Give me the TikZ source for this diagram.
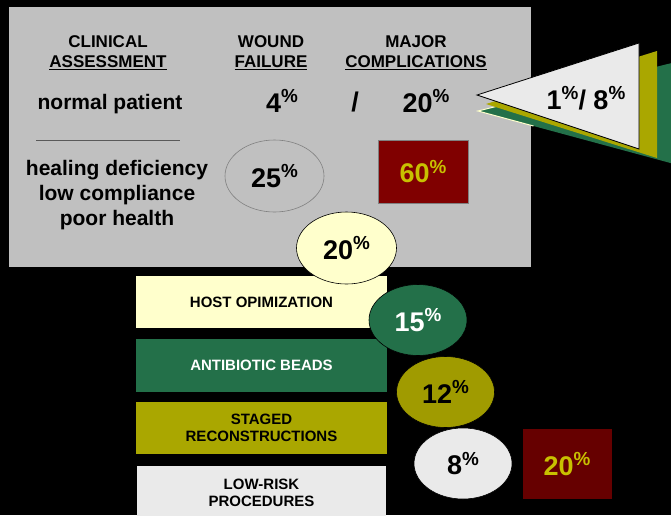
\documentclass[tikz,border=0pt]{standalone}
\usepackage{fontspec}
\setmainfont{Liberation Sans}
\usetikzlibrary{shapes.geometric,calc}
\definecolor{panel}{HTML}{C0C0C0}
\definecolor{lyellow}{HTML}{FFFFCC}
\definecolor{dgreen}{HTML}{237049}
\definecolor{olive}{HTML}{AAA700}
\definecolor{olived}{HTML}{A09B00}
\definecolor{lgray}{HTML}{EAEAEA}
\definecolor{dred}{HTML}{800000}
\definecolor{ddred}{HTML}{660000}
\definecolor{ytext}{HTML}{C8C000}
\newcommand\pc{\raisebox{0.36em}{\scalebox{0.7}{\%}}}
\tikzset{
  hdr/.style={align=center,font=\fontsize{17}{20}\selectfont\bfseries,inner sep=0pt},
  body/.style={align=center,font=\fontsize{21}{25}\selectfont\bfseries,inner sep=0pt},
  big/.style={font=\fontsize{27}{28}\selectfont\bfseries,inner sep=0pt},
  oval/.style={ellipse,draw=black,line width=0.6pt,minimum width=98pt,minimum height=71pt,inner sep=0pt,font=\fontsize{27}{28}\selectfont\bfseries},
  band/.style={rectangle,minimum width=251pt,inner sep=0pt,align=center,font=\fontsize{15}{17}\selectfont\bfseries},
}
\begin{document}
\begin{tikzpicture}[x=1pt,y=-1pt]
\useasboundingbox (0,0) rectangle (671,515);
\fill[black] (0,0) rectangle (671,515);
% gray panel
\fill[panel] (9,7) rectangle (531,267);
% headers
\node[hdr] (clin) at (108,53) {CLINICAL\\\underline{ASSESSMENT}};
\node[hdr] (wound) at (271,53) {WOUND\\\underline{FAILURE}};
\node[hdr] (major) at (416,53) {MAJOR\\\underline{COMPLICATIONS}};
\node[body] (normal) at (110,104) {normal patient};
\node[big] (wf) at (282,101) {4\pc};
\node[big] (slash) at (355,102) {/};
\node[big] (mc) at (426,101) {20\pc};
\coordinate (la) at (36,140);
\coordinate (lb) at (180,140);
\draw[gray!70!black,line width=0.8pt] (la) -- (lb);
\node[body] (heal) at (117,195) {healing deficiency\\low compliance\\poor health};
\node[oval,fill=panel,draw=gray,minimum width=99pt,minimum height=72pt] (e25) at (274.5,176) {25\pc};
\node[rectangle,fill=dred,draw=gray,line width=0.6pt,minimum width=90pt,minimum height=63pt,inner sep=0pt,text=ytext,font=\fontsize{27}{28}\selectfont\bfseries] (r60) at (423,171.5) {60\pc};
% triangles
\coordinate (gt) at (478,111);
\coordinate (gu) at (700,56);
\coordinate (gd) at (700,171);
\fill[dgreen] (gt) -- (gu) -- (gd) -- cycle;
\draw[lyellow,line width=1pt] ($(gt)!0.12!(gu)$) -- (gt) -- ($(gt)!0.25!(gd)$);
\coordinate (ot) at (486,104);
\coordinate (ou) at (657,51);
\coordinate (od) at (657,158);
\fill[olive] (ot) -- (ou) -- (od) -- cycle;
\coordinate (wt) at (477,95);
\coordinate (wu) at (639,43);
\coordinate (wd) at (639,149);
\draw[fill=lgray,line width=0.8pt] (wt) -- (wu) -- (wd) -- cycle;
\node[big] (tri) at (586,98) {1\pc/ 8\pc};
% bands
\node[band,fill=lyellow,minimum height=52pt] (host) at (261.5,302) {HOST OPIMIZATION};
\node[band,fill=dgreen,minimum height=53pt,text=white] (anti) at (261.5,365.5) {ANTIBIOTIC BEADS};
\node[band,fill=olive,minimum height=52pt] (staged) at (261.5,428) {STAGED\\RECONSTRUCTIONS};
\fill[lgray] (137,466) rectangle (386,520);
\node[band,minimum height=40pt] (low) at (261.5,493) {LOW-RISK\\PROCEDURES};
% ovals
\node[oval,fill=lyellow,minimum width=100pt,minimum height=72pt] (e20) at (346.5,248) {20\pc};
\node[oval,fill=dgreen,text=white] (e15) at (418,320) {15\pc};
\node[oval,fill=olived] (e12) at (445.5,392) {12\pc};
\node[oval,fill=lgray] (e8) at (463,463.5) {8\pc};
\node[rectangle,fill=ddred,minimum width=89pt,minimum height=70pt,inner sep=0pt,text=ytext,font=\fontsize{27}{28}\selectfont\bfseries] (r20) at (567,464) {20\pc};
\end{tikzpicture}
\end{document}
